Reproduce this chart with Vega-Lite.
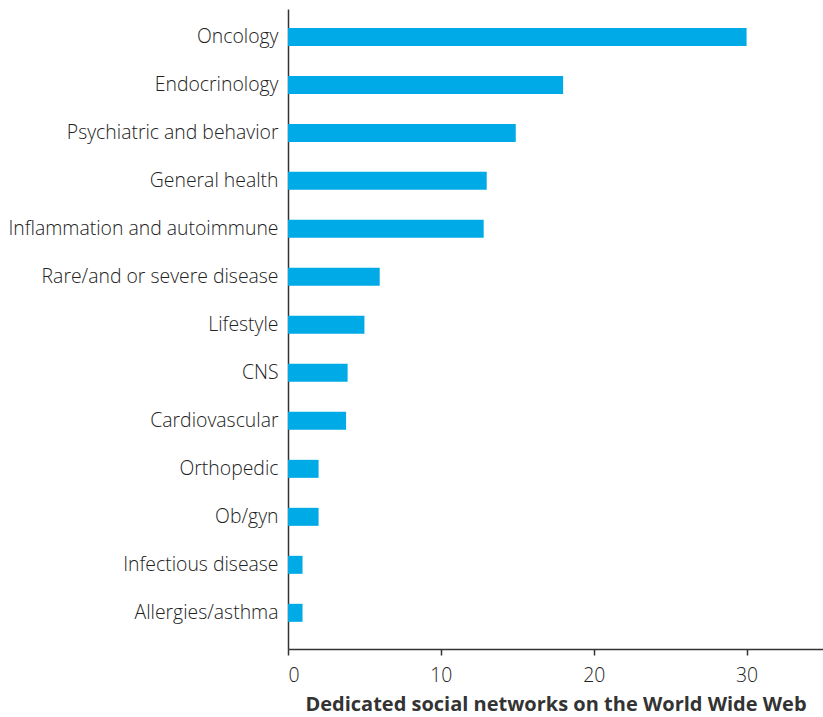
{
  "$schema": "https://vega.github.io/schema/vega-lite/v6.json",
  "autosize": {"type": "none"},
  "padding": {"left": 288, "top": 9, "right": 0, "bottom": 68},
  "width": 535,
  "height": 640,
  "background": "white",
  "config": {"view": {"stroke": null}},
  "data": {"values": [
    {"category": "Oncology", "value": 30},
    {"category": "Endocrinology", "value": 18},
    {"category": "Psychiatric and behavior", "value": 14.9},
    {"category": "General health", "value": 13},
    {"category": "Inflammation and autoimmune", "value": 12.8},
    {"category": "Rare/and or severe disease", "value": 6},
    {"category": "Lifestyle", "value": 5},
    {"category": "CNS", "value": 3.9},
    {"category": "Cardiovascular", "value": 3.8},
    {"category": "Orthopedic", "value": 2},
    {"category": "Ob/gyn", "value": 2},
    {"category": "Infectious disease", "value": 0.95},
    {"category": "Allergies/asthma", "value": 0.95}
  ]},
  "mark": {"type": "bar", "color": "#00AAE6"},
  "encoding": {
    "y": {
      "field": "category", "type": "nominal", "sort": null,
      "scale": {"paddingInner": 0.625, "paddingOuter": 0.48, "align": 0.41},
      "axis": {
        "title": null, "ticks": false, "labelPadding": 10, "labelLimit": 400,
        "labelFont": "Open Sans", "labelFontSize": 19.4, "labelFontWeight": 300,
        "labelColor": "#222222", "domainColor": "#333333", "domainWidth": 1.5,
        "grid": false
      }
    },
    "x": {
      "field": "value", "type": "quantitative",
      "scale": {"domain": [0, 35], "nice": false},
      "axis": {
        "title": "Dedicated social networks on the World Wide Web",
        "values": [0, 10, 20, 30], "grid": false,
        "tickSize": 6, "tickColor": "#333333", "tickWidth": 1.5,
        "domainColor": "#333333", "domainWidth": 1.5,
        "labelFont": "Open Sans", "labelFontSize": 19.4, "labelFontWeight": 300,
        "labelColor": "#222222", "labelPadding": 11,
        "titleFont": "Open Sans", "titleFontSize": 20, "titleFontWeight": "bold",
        "titleColor": "#333333", "titlePadding": 10
      }
    }
  }
}
